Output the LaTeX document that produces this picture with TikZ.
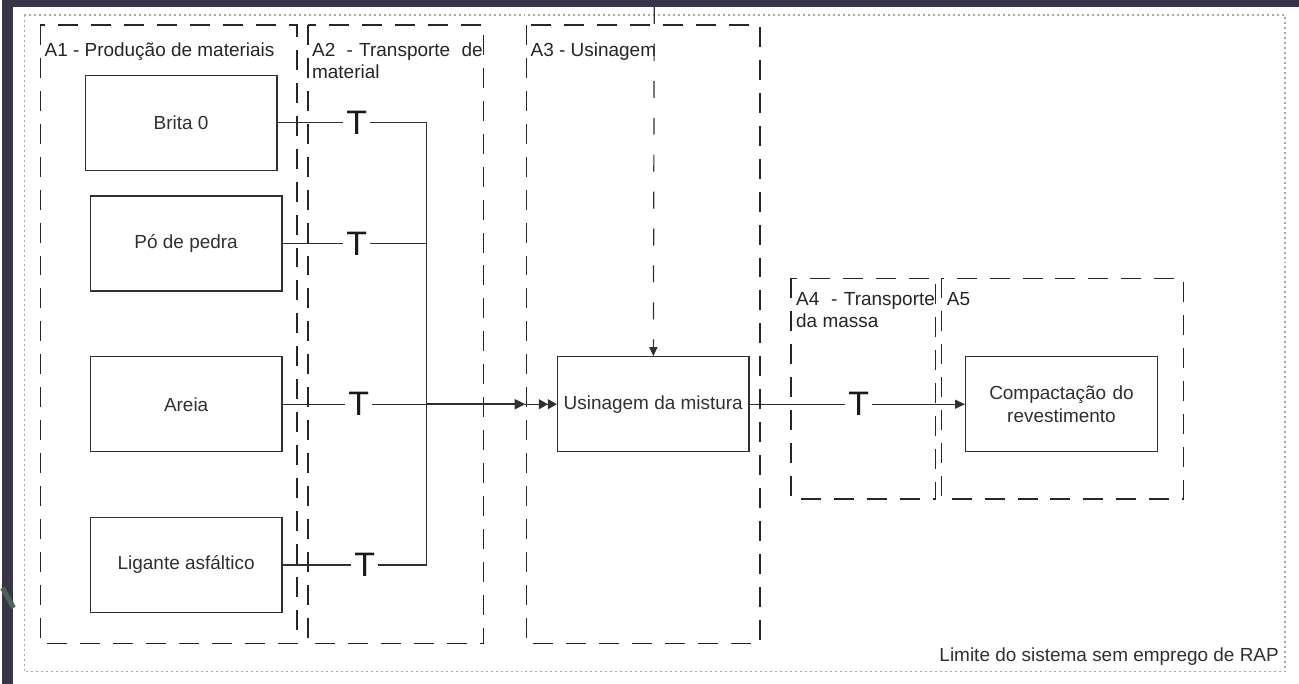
\documentclass[tikz,border=0pt]{standalone}
\usepackage{fontspec}
\setmainfont{Liberation Sans}
\usetikzlibrary{arrows.meta}
\definecolor{bgdark}{HTML}{383449}
\definecolor{inkgray}{HTML}{303030}
\definecolor{dotgray}{HTML}{A8A8A8}
\definecolor{leafgreen}{HTML}{4A6650}

\begin{document}
\begin{tikzpicture}[x=1pt, y=-1pt,
  box/.style={draw=inkgray, line width=1.3pt, minimum width=192pt, minimum height=95pt, align=center, text=inkgray, font=\fontsize{19}{24}\selectfont},
  area/.style={draw=black!85, line width=1.4pt, dash pattern=on 20pt off 13pt},
  lbl/.style={anchor=north west, inner sep=0pt, text=black!85, font=\fontsize{19}{22}\selectfont},
  tmark/.style={inner sep=3pt, text=black!90, font=\fontsize{34}{34}\selectfont},
  flow/.style={draw=inkgray, line width=1.2pt}]

% background of the screenshot
\fill[bgdark] (0,0) rectangle (1299,685);
\fill[white] (11,7) rectangle (1299,685);
\draw[leafgreen, line width=5pt] (0,589) -- (11,609);

% system limit
\draw[dotgray, line width=1.3pt, dash pattern=on 2pt off 3pt] (22,15) rectangle (1285,673);
\node[lbl, anchor=base east, text=inkgray] (limite) at (1279,663) {Limite do sistema sem emprego de RAP};

% stages
\draw[area] (38,25) rectangle (295,645);
\draw[area] (306,25) rectangle (482,645);
\draw[area] (525,25) rectangle (759,645);
\draw[area] (790,279) rectangle (935,500);
\draw[area] (941,279) rectangle (1183,500);
\node[lbl] (la1) at (42,43) {A1 - Produção de materiais};
\node[lbl, text width=171pt, align=justify] (la2) at (310,43) {A2 \hfill-\hfill Transporte \hfill de\\material};
\node[lbl] (la3) at (529,43) {A3 - Usinagem};
\node[lbl, text width=139pt, align=justify] (la4) at (795,293) {A4 \hfill-\hfill Transporte\\da massa};
\node[lbl] (la5) at (946,293) {A5};

% processes
\node[box] (brita) at (179,123) {Brita 0};
\node[box] (po) at (184,244) {Pó de pedra};
\node[box] (areia) at (184,405) {Areia};
\node[box] (ligante) at (184,566) {Ligante asfáltico};
\node[box] (usinagem) at (652,405) {Usinagem da mistura};
\node[box, text width=170pt] (compacta) at (1061,405) {Compactação do\\revestimento};

% transport
\node[tmark] (tbrita) at (355,123) {T};
\node[tmark] (tpo) at (355,244) {T};
\node[tmark] (tareia) at (357,405) {T};
\node[tmark] (tlig) at (363,566) {T};
\node[tmark] (tmassa) at (858,405) {T};

\coordinate (bus) at (425,405);
\coordinate (a3in) at (524,405);
\coordinate (topin) at (653,7);

\draw[flow] (brita) -- (tbrita) -| (bus);
\draw[flow] (po) -- (tpo) -| (bus);
\draw[flow] (ligante) -- (tlig) -| (bus);
\draw[flow] (areia) -- (tareia) -- (bus);
\draw[flow, line width=2.2pt, -{Triangle[length=11pt,width=10pt]}] (bus) -- (a3in);
\draw[flow, -{Triangle[length=9pt,width=10pt]Triangle[length=9pt,width=10pt]}] (a3in) -- (usinagem);
\draw[flow, dash pattern=on 17pt off 20pt, -{Triangle[length=9pt,width=8pt]}] (topin) -- (usinagem);
\draw[flow] (usinagem) -- (tmassa);
\draw[flow, -{Triangle[length=10pt,width=9pt]}] (tmassa) -- (compacta);
\end{tikzpicture}
\end{document}
